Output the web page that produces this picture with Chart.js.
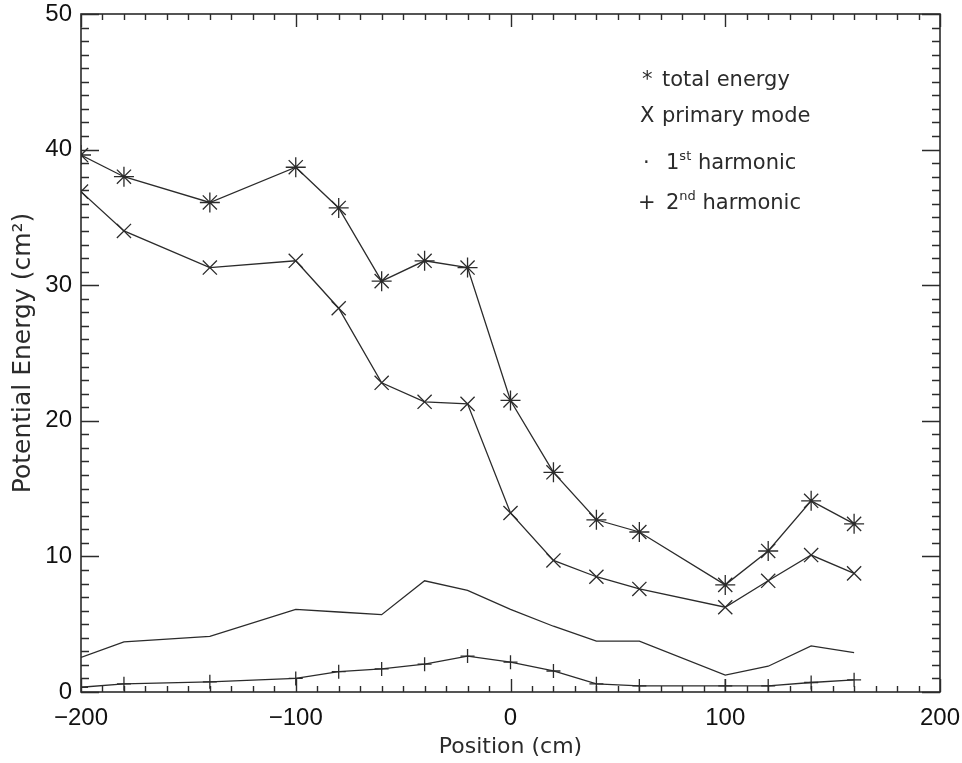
<!DOCTYPE html>
<html>
<head>
<meta charset="utf-8">
<script src="https://cdn.jsdelivr.net/npm/chart.js@4/dist/chart.umd.min.js"></script>
<style>
  html, body { margin: 0; padding: 0; background: #fff; }
  #wrap { width: 962px; height: 763px; }
</style>
</head>
<body>
<div id="wrap"><canvas id="chart" width="962" height="763"></canvas></div>
<script>
// Positions along the track (cm)
var positions = [-200, -180, -140, -100, -80, -60, -40, -20, 0, 20, 40, 60, 100, 120, 140, 160];

// Potential energy values (cm^2)
var totalEnergy    = [39.6, 38.0, 36.1, 38.7, 35.7, 30.3, 31.8, 31.3, 21.5, 16.2, 12.7, 11.8, 7.9, 10.4, 14.1, 12.4];
var primaryMode    = [36.9, 34.0, 31.3, 31.8, 28.3, 22.8, 21.4, 21.25, 13.2, 9.7, 8.5, 7.6, 6.25, 8.2, 10.1, 8.75];
var firstHarmonic  = [2.55, 3.7, 4.1, 6.1, 5.9, 5.7, 8.2, 7.5, 6.1, 4.85, 3.75, 3.75, 1.25, 1.9, 3.4, 2.9];
var secondHarmonic = [0.35, 0.6, 0.75, 1.0, 1.5, 1.7, 2.05, 2.65, 2.2, 1.55, 0.6, 0.45, 0.45, 0.45, 0.7, 0.9];

// Axis ranges and labelled ticks
var xMin = -200, xMax = 200, xMinorStep = 10, xLabelStep = 100;
var yMin = 0, yMax = 50, yMinorStep = 1, yLabelStep = 10;

var INK = "#2b2b2b";

function points(values) {
    return positions.map(function (p, i) { return { x: p, y: values[i] }; });
}

// ── Frame with inward ticks on all four sides (IDL style) ──
var frameTicks = {
    id: "frameTicks",
    afterDatasetsDraw: function (chart) {
        var ctx = chart.ctx;
        var a = chart.chartArea;
        var xs = chart.scales.x, ys = chart.scales.y;
        ctx.save();
        ctx.strokeStyle = INK;
        ctx.lineWidth = 1.6;
        ctx.strokeRect(a.left, a.top, a.right - a.left, a.bottom - a.top);
        ctx.lineWidth = 1.4;
        ctx.beginPath();
        xs.ticks.forEach(function (t) {
            var px = Math.round(xs.getPixelForValue(t.value)) + 0.5;
            var len = (t.value % xLabelStep === 0) ? 13 : 6;
            ctx.moveTo(px, a.bottom); ctx.lineTo(px, a.bottom - len);
            ctx.moveTo(px, a.top); ctx.lineTo(px, a.top + len);
        });
        ys.ticks.forEach(function (t) {
            var py = Math.round(ys.getPixelForValue(t.value)) + 0.5;
            var len = (t.value % yLabelStep === 0) ? 18 : 8;
            ctx.moveTo(a.left, py); ctx.lineTo(a.left + len, py);
            ctx.moveTo(a.right, py); ctx.lineTo(a.right - len, py);
        });
        ctx.stroke();
        ctx.restore();
    }
};

// ── Text legend in the upper right, with superscripts ──
var LEGEND_ROWS = [
    { sym: "*", symX: 642, base: 86, parts: [["total energy", false]] },
    { sym: "X", symX: 640, base: 122, parts: [["primary mode", false]] },
    { sym: "\u00b7", symX: 643, base: 169, parts: [["1", false], ["st", true], [" harmonic", false]] },
    { sym: "+", symX: 638, base: 209, parts: [["2", false], ["nd", true], [" harmonic", false]] }
];

var textLegend = {
    id: "textLegend",
    afterDraw: function (chart) {
        var ctx = chart.ctx;
        ctx.save();
        ctx.fillStyle = INK;
        ctx.textBaseline = "alphabetic";
        ctx.textAlign = "left";
        LEGEND_ROWS.forEach(function (row) {
            ctx.font = "21px 'DejaVu Sans'";
            ctx.fillText(row.sym, row.symX, row.base);
            var x = 662;
            if (row.parts.length > 1) x = 666;
            row.parts.forEach(function (p) {
                if (p[1]) {
                    ctx.font = "13px 'DejaVu Sans'";
                    ctx.fillText(p[0], x, row.base - 9);
                } else {
                    ctx.font = "21px 'DejaVu Sans'";
                    ctx.fillText(p[0], x, row.base);
                }
                x += ctx.measureText(p[0]).width;
            });
        });
        ctx.restore();
    }
};

function lineSet(label, values, style, radius) {
    return {
        label: label,
        data: points(values),
        borderColor: INK,
        borderWidth: 1.3,
        pointStyle: style,
        pointRadius: radius,
        pointBorderColor: INK,
        pointBorderWidth: 1.3,
        pointBackgroundColor: INK,
        tension: 0,
        fill: false
    };
}

var tickFont = { family: "'Liberation Sans'", size: 24 };

new Chart(document.getElementById("chart"), {
    type: "line",
    data: {
        datasets: [
            lineSet("total energy", totalEnergy, "star", 10),
            lineSet("primary mode", primaryMode, "crossRot", 10),
            lineSet("1st harmonic", firstHarmonic, "circle", 0),
            lineSet("2nd harmonic", secondHarmonic, "cross", 7)
        ]
    },
    options: {
        responsive: false,
        animation: false,
        layout: { padding: { left: 0, right: 22, top: 14, bottom: 0 } },
        plugins: {
            legend: { display: false },
            tooltip: { enabled: false }
        },
        scales: {
            x: {
                type: "linear",
                min: xMin, max: xMax,
                grid: { display: false, drawTicks: false },
                border: { display: false },
                ticks: {
                    stepSize: xMinorStep,
                    autoSkip: false,
                    maxTicksLimit: 100,
                    maxRotation: 0,
                    padding: 12,
                    color: "#111",
                    font: tickFont,
                    callback: function (v) {
                        if (v % xLabelStep !== 0) return "";
                        return v < 0 ? "\u2212" + Math.abs(v) : String(v);
                    }
                },
                title: { display: true, text: "Position (cm)", color: INK,
                         font: { family: "'DejaVu Sans'", size: 22 }, padding: { top: 0, bottom: 3 } },
                afterFit: function (s) { s.height = 71; s.paddingLeft = 0; s.paddingRight = 0; }
            },
            y: {
                min: yMin, max: yMax,
                grid: { display: false, drawTicks: false },
                border: { display: false },
                ticks: {
                    stepSize: yMinorStep,
                    autoSkip: false,
                    maxTicksLimit: 100,
                    padding: 9,
                    color: "#111",
                    font: tickFont,
                    callback: function (v) { return v % yLabelStep === 0 ? String(v) : ""; }
                },
                title: { display: true, text: "Potential Energy (cm\u00b2)", color: INK,
                         font: { family: "'DejaVu Sans'", size: 25 }, padding: { top: 8, bottom: 0 } },
                afterFit: function (s) { s.width = 81; s.paddingTop = 0; s.paddingBottom = 0; }
            }
        }
    },
    plugins: [frameTicks, textLegend]
});
</script>
</body>
</html>
